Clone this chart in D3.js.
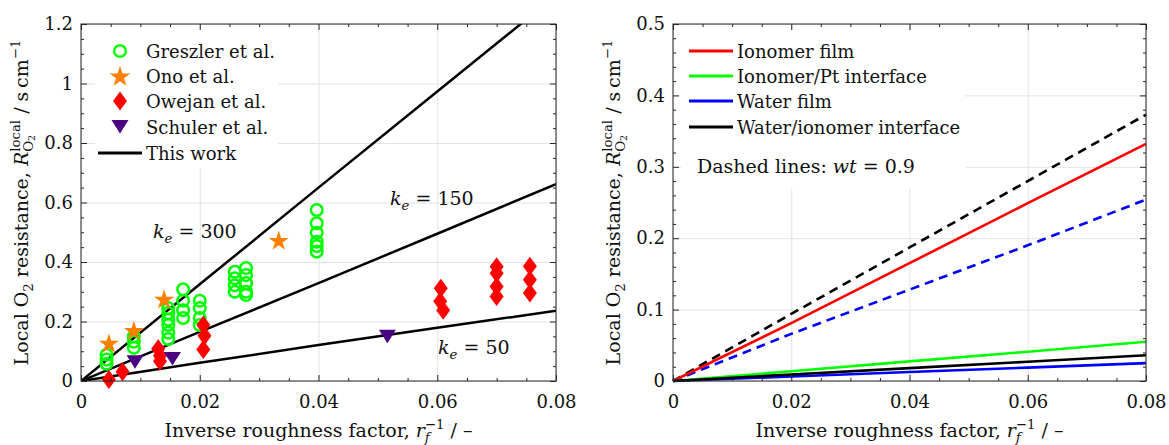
<!DOCTYPE html>
<html>
<head>
<meta charset="utf-8">
<script src="https://cdn.jsdelivr.net/npm/d3@7"></script>
<style>
body { margin: 0; background: #fff; }
svg { display: block; font-family: "DejaVu Serif", serif; }
</style>
</head>
<body>
<script>
// ---- data ----
var xMajor = [0, 0.02, 0.04, 0.06, 0.08];
var xLabels = ['0', '0.02', '0.04', '0.06', '0.08'];
var yMajorLeft = [0, 0.2, 0.4, 0.6, 0.8, 1, 1.2];
var yLabelsLeft = ['0', '0.2', '0.4', '0.6', '0.8', '1', '1.2'];
var yMajorRight = [0, 0.1, 0.2, 0.3, 0.4, 0.5];
var yLabelsRight = ['0', '0.1', '0.2', '0.3', '0.4', '0.5'];

var greszler = [
  [0.0043, 0.058], [0.0043, 0.072], [0.0043, 0.088],
  [0.0089, 0.112], [0.0089, 0.132], [0.0089, 0.150],
  [0.0147, 0.141], [0.0147, 0.162], [0.0147, 0.188], [0.0147, 0.206], [0.0147, 0.228], [0.0147, 0.245],
  [0.0172, 0.212], [0.0172, 0.238], [0.0172, 0.270], [0.0172, 0.308],
  [0.0200, 0.188], [0.0200, 0.212], [0.0200, 0.245], [0.0200, 0.270],
  [0.0259, 0.300], [0.0259, 0.322], [0.0259, 0.345], [0.0259, 0.367],
  [0.0278, 0.289], [0.0278, 0.300], [0.0278, 0.329], [0.0278, 0.356], [0.0278, 0.380],
  [0.0397, 0.435], [0.0397, 0.454], [0.0397, 0.468], [0.0397, 0.498], [0.0397, 0.530], [0.0397, 0.575]
];
var ono = [[0.0047, 0.124], [0.0089, 0.167], [0.0140, 0.272], [0.0333, 0.470]];
var owejan = [
  [0.0047, 0.005], [0.0070, 0.031], [0.0130, 0.108], [0.0133, 0.085], [0.0133, 0.066],
  [0.0206, 0.188], [0.0208, 0.152], [0.0206, 0.106],
  [0.0606, 0.312], [0.0605, 0.268], [0.0610, 0.238],
  [0.0700, 0.384], [0.0700, 0.362], [0.0700, 0.318], [0.0700, 0.284],
  [0.0756, 0.386], [0.0756, 0.340], [0.0756, 0.296]
];
var schuler = [[0.0091, 0.066], [0.0154, 0.077], [0.0516, 0.152]];

var modelX = [0, 0.02, 0.04, 0.06, 0.08];
var ke300 = [0, 0.325, 0.65, 0.973, 1.296];
var ke150 = [0, 0.165, 0.329, 0.495, 0.662];
var ke50 = [0, 0.061, 0.121, 0.179, 0.236];

var rfX = [0, 0.02, 0.04, 0.06, 0.08];
var ionomerFilm = [0, 0.081, 0.165, 0.249, 0.332];
var ionomerPt = [0, 0.0137, 0.0275, 0.041, 0.055];
var waterFilm = [0, 0.0063, 0.0125, 0.0188, 0.025];
var waterIonomer = [0, 0.009, 0.018, 0.027, 0.036];
var waterIonomerWet = [0, 0.094, 0.187, 0.280, 0.373];
var waterFilmWet = [0, 0.066, 0.128, 0.190, 0.254];

// ---- layout ----
var W = 1169, H = 445;
var plotTop = 24, plotBottom = 381;
var axisColor = '#262626', gridColor = '#e3e3e3';
var green = '#00ff00', orange = '#ff8000', red = '#ff0000', purple = '#4b0082', blue = '#0000ff';

var svg = d3.select('body').append('svg').attr('width', W).attr('height', H);

function minorTicks(step, max, majors) {
  return d3.range(0, max + step / 2, step).filter(function(v) {
    return !majors.some(function(m) { return Math.abs(m - v) < 1e-9; });
  });
}

// text with sub/superscripts; parts: {t, it, pos: 1 sup, -1 sub, -2 subsub, back, fwd}
function rich(g, parts, fs) {
  var text = g.append('text').attr('font-size', fs).attr('fill', '#111');
  var cur = 0, spans = [];
  parts.forEach(function(p) {
    var off = p.pos === 1 ? -0.42 * fs : p.pos === -1 ? 0.25 * fs : p.pos === -2 ? 0.38 * fs : 0;
    var size = !p.pos ? fs : (p.pos === -2 ? fs * 0.5 : fs * 0.7);
    var s = text.append('tspan').text(p.t).attr('dy', off - cur).attr('font-size', size);
    if (p.it) s.attr('font-style', 'italic');
    if (p.back) s.attr('dx', -spans[spans.length - 1].node().getComputedTextLength());
    if (p.fwd) {
      var supW = spans[p.fwd[0]].node().getComputedTextLength();
      var subW = 0;
      p.fwd.slice(1).forEach(function(k) { subW += spans[k].node().getComputedTextLength(); });
      s.attr('dx', Math.max(0, supW - subW));
    }
    cur = off;
    spans.push(s);
  });
  return text;
}

function panel(left, right, yMax, yMajor, yLabels, yMinorStep) {
  var x = d3.scaleLinear().domain([0, 0.08]).range([left, right]);
  var y = d3.scaleLinear().domain([0, yMax]).range([plotBottom, plotTop]);
  var g = svg.append('g');

  // grid
  g.append('g').attr('transform', 'translate(0,' + plotBottom + ')')
    .call(d3.axisBottom(x).tickValues(xMajor).tickSize(-(plotBottom - plotTop)).tickFormat(''))
    .call(function(s) { s.select('.domain').remove(); s.selectAll('line').attr('stroke', gridColor); });
  g.append('g').attr('transform', 'translate(' + left + ',0)')
    .call(d3.axisLeft(y).tickValues(yMajor).tickSize(-(right - left)).tickFormat(''))
    .call(function(s) { s.select('.domain').remove(); s.selectAll('line').attr('stroke', gridColor); });

  return { x: x, y: y, g: g, left: left, right: right, yMajor: yMajor, yLabels: yLabels,
           yMinor: minorTicks(yMinorStep, yMax, yMajor) };
}

function frame(p) {
  var g = p.g.append('g');
  var xMinor = minorTicks(0.005, 0.08, xMajor);
  function style(s) {
    s.select('.domain').remove();
    s.selectAll('line').attr('stroke', axisColor);
    s.selectAll('text').attr('fill', '#111').attr('font-size', 18).attr('font-family', 'DejaVu Serif');
  }
  g.append('g').attr('transform', 'translate(0,' + plotBottom + ')')
    .call(d3.axisBottom(p.x).tickValues(xMajor).tickSize(-6).tickPadding(14)
      .tickFormat(function(d, i) { return xLabels[i]; })).call(style);
  g.append('g').attr('transform', 'translate(0,' + plotBottom + ')')
    .call(d3.axisBottom(p.x).tickValues(xMinor).tickSize(-3).tickFormat('')).call(style);
  g.append('g').attr('transform', 'translate(0,' + plotTop + ')')
    .call(d3.axisTop(p.x).tickValues(xMajor).tickSize(-6).tickFormat('')).call(style);
  g.append('g').attr('transform', 'translate(0,' + plotTop + ')')
    .call(d3.axisTop(p.x).tickValues(xMinor).tickSize(-3).tickFormat('')).call(style);
  g.append('g').attr('transform', 'translate(' + p.left + ',0)')
    .call(d3.axisLeft(p.y).tickValues(p.yMajor).tickSize(-6).tickPadding(8)
      .tickFormat(function(d, i) { return p.yLabels[i]; })).call(style);
  g.append('g').attr('transform', 'translate(' + p.left + ',0)')
    .call(d3.axisLeft(p.y).tickValues(p.yMinor).tickSize(-3).tickFormat('')).call(style);
  g.append('g').attr('transform', 'translate(' + p.right + ',0)')
    .call(d3.axisRight(p.y).tickValues(p.yMajor).tickSize(-6).tickFormat('')).call(style);
  g.append('g').attr('transform', 'translate(' + p.right + ',0)')
    .call(d3.axisRight(p.y).tickValues(p.yMinor).tickSize(-3).tickFormat('')).call(style);
  g.append('rect').attr('x', p.left).attr('y', plotTop)
    .attr('width', p.right - p.left).attr('height', plotBottom - plotTop)
    .attr('fill', 'none').attr('stroke', axisColor).attr('stroke-width', 1);

  // axis titles
  var cx = (p.left + p.right) / 2;
  rich(g, [
    { t: 'Inverse roughness factor, ' }, { t: 'r', it: 1 }, { t: '\u22121', pos: 1 },
    { t: 'f', it: 1, pos: -1, back: 1 }, { t: ' / \u2013', fwd: [2, 3] }
  ], 19).attr('x', cx).attr('y', 437).attr('text-anchor', 'middle');

  rich(g.append('g').attr('transform', 'translate(' + (p.left - 53) + ',' + ((plotTop + plotBottom) / 2) + ') rotate(-90)'), [
    { t: 'Local O' }, { t: '2', pos: -1 }, { t: ' resistance, ' }, { t: 'R', it: 1 },
    { t: 'local', pos: 1 }, { t: 'O', pos: -1, back: 1 }, { t: '2', pos: -2 },
    { t: ' / s\u2009cm', fwd: [4, 5, 6] }, { t: '\u22121', pos: 1 }
  ], 19).attr('text-anchor', 'middle');
}

var line = function(p, xs) {
  return d3.line().x(function(d, i) { return p.x(xs[i]); }).y(function(d) { return p.y(d); });
};

// ===== left panel =====
var L = panel(81, 556, 1.2, yMajorLeft, yLabelsLeft, 0.05);
svg.append('clipPath').attr('id', 'clipL').append('rect')
  .attr('x', 81).attr('y', plotTop).attr('width', 556 - 81).attr('height', plotBottom - plotTop);

var lineL = line(L, modelX);
[ke300, ke150, ke50].forEach(function(s) {
  L.g.append('path').attr('d', lineL(s)).attr('clip-path', 'url(#clipL)')
    .attr('fill', 'none').attr('stroke', '#000').attr('stroke-width', 2.5);
});

var diamond = 'M0,-9.5L7,0L0,9.5L-7,0Z';
var triangle = 'M-8.5,-6L8.5,-6L0,7.5Z';
var star = d3.symbol(d3.symbolStar, 125)();

L.g.append('g').selectAll('circle').data(greszler).enter().append('circle')
  .attr('cx', function(d) { return L.x(d[0]); }).attr('cy', function(d) { return L.y(d[1]); })
  .attr('r', 5.8).attr('fill', 'none').attr('stroke', green).attr('stroke-width', 2.5);
L.g.append('g').selectAll('path').data(ono).enter().append('path')
  .attr('d', star).attr('fill', orange)
  .attr('transform', function(d) { return 'translate(' + L.x(d[0]) + ',' + L.y(d[1]) + ')'; });
L.g.append('g').selectAll('path').data(owejan).enter().append('path')
  .attr('d', diamond).attr('fill', red)
  .attr('transform', function(d) { return 'translate(' + L.x(d[0]) + ',' + L.y(d[1]) + ')'; });
L.g.append('g').selectAll('path').data(schuler).enter().append('path')
  .attr('d', triangle).attr('fill', purple)
  .attr('transform', function(d) { return 'translate(' + L.x(d[0]) + ',' + L.y(d[1]) + ')'; });

// k_e labels
function keLabel(txt, xx, yy) {
  rich(L.g, [{ t: 'k', it: 1 }, { t: 'e', it: 1, pos: -1 }, { t: ' = ' + txt }], 19)
    .attr('x', xx).attr('y', yy);
}
keLabel('300', 153, 238);
keLabel('150', 390, 205);
keLabel('50', 438, 354);

frame(L);

// left legend
var legL = svg.append('g');
legL.append('rect').attr('x', 95).attr('y', 30).attr('width', 183).attr('height', 138).attr('fill', '#fff');
var legRows = [51, 76, 101, 127, 153];
var legNames = ['Greszler et al.', 'Ono et al.', 'Owejan et al.', 'Schuler et al.', 'This work'];
legNames.forEach(function(n, i) {
  legL.append('text').attr('x', 146).attr('y', legRows[i] + 6.5)
    .attr('font-size', 18).attr('fill', '#111').text(n);
});
legL.append('circle').attr('cx', 120).attr('cy', legRows[0]).attr('r', 5.8)
  .attr('fill', 'none').attr('stroke', green).attr('stroke-width', 2.5);
legL.append('path').attr('d', d3.symbol(d3.symbolStar, 135)()).attr('fill', orange)
  .attr('transform', 'translate(120,' + (legRows[1] + 1) + ')');
legL.append('path').attr('d', diamond).attr('fill', red).attr('transform', 'translate(120,' + legRows[2] + ')');
legL.append('path').attr('d', triangle).attr('fill', purple).attr('transform', 'translate(120,' + (legRows[3] - 1) + ')');
legL.append('line').attr('x1', 98).attr('x2', 142).attr('y1', legRows[4]).attr('y2', legRows[4])
  .attr('stroke', '#000').attr('stroke-width', 3);

// ===== right panel =====
var R = panel(673, 1146, 0.5, yMajorRight, yLabelsRight, 0.02);
var lineR = line(R, rfX);
var rSeries = [
  { v: waterIonomerWet, c: '#000', dash: '9,6' },
  { v: waterFilmWet, c: blue, dash: '9,6' },
  { v: ionomerFilm, c: red },
  { v: ionomerPt, c: green },
  { v: waterFilm, c: blue },
  { v: waterIonomer, c: '#000' }
];
rSeries.forEach(function(s) {
  R.g.append('path').attr('d', lineR(s.v)).attr('fill', 'none')
    .attr('stroke', s.c).attr('stroke-width', 2.6)
    .attr('stroke-dasharray', s.dash || null);
});
frame(R);

var legR = svg.append('g');
legR.append('rect').attr('x', 681).attr('y', 31).attr('width', 284).attr('height', 158).attr('fill', '#fff');
var legRNames = ['Ionomer film', 'Ionomer/Pt interface', 'Water film', 'Water/ionomer interface'];
var legRColors = [red, green, blue, '#000'];
legRNames.forEach(function(n, i) {
  legR.append('line').attr('x1', 689).attr('x2', 733).attr('y1', legRows[i]).attr('y2', legRows[i])
    .attr('stroke', legRColors[i]).attr('stroke-width', 3);
  legR.append('text').attr('x', 737).attr('y', legRows[i] + 6.5)
    .attr('font-size', 18).attr('fill', '#111').text(n);
});
rich(legR, [{ t: 'Dashed lines: ' }, { t: 'wt', it: 1 }, { t: ' = 0.9' }], 19)
  .attr('x', 697).attr('y', 173);
</script>
</body>
</html>
